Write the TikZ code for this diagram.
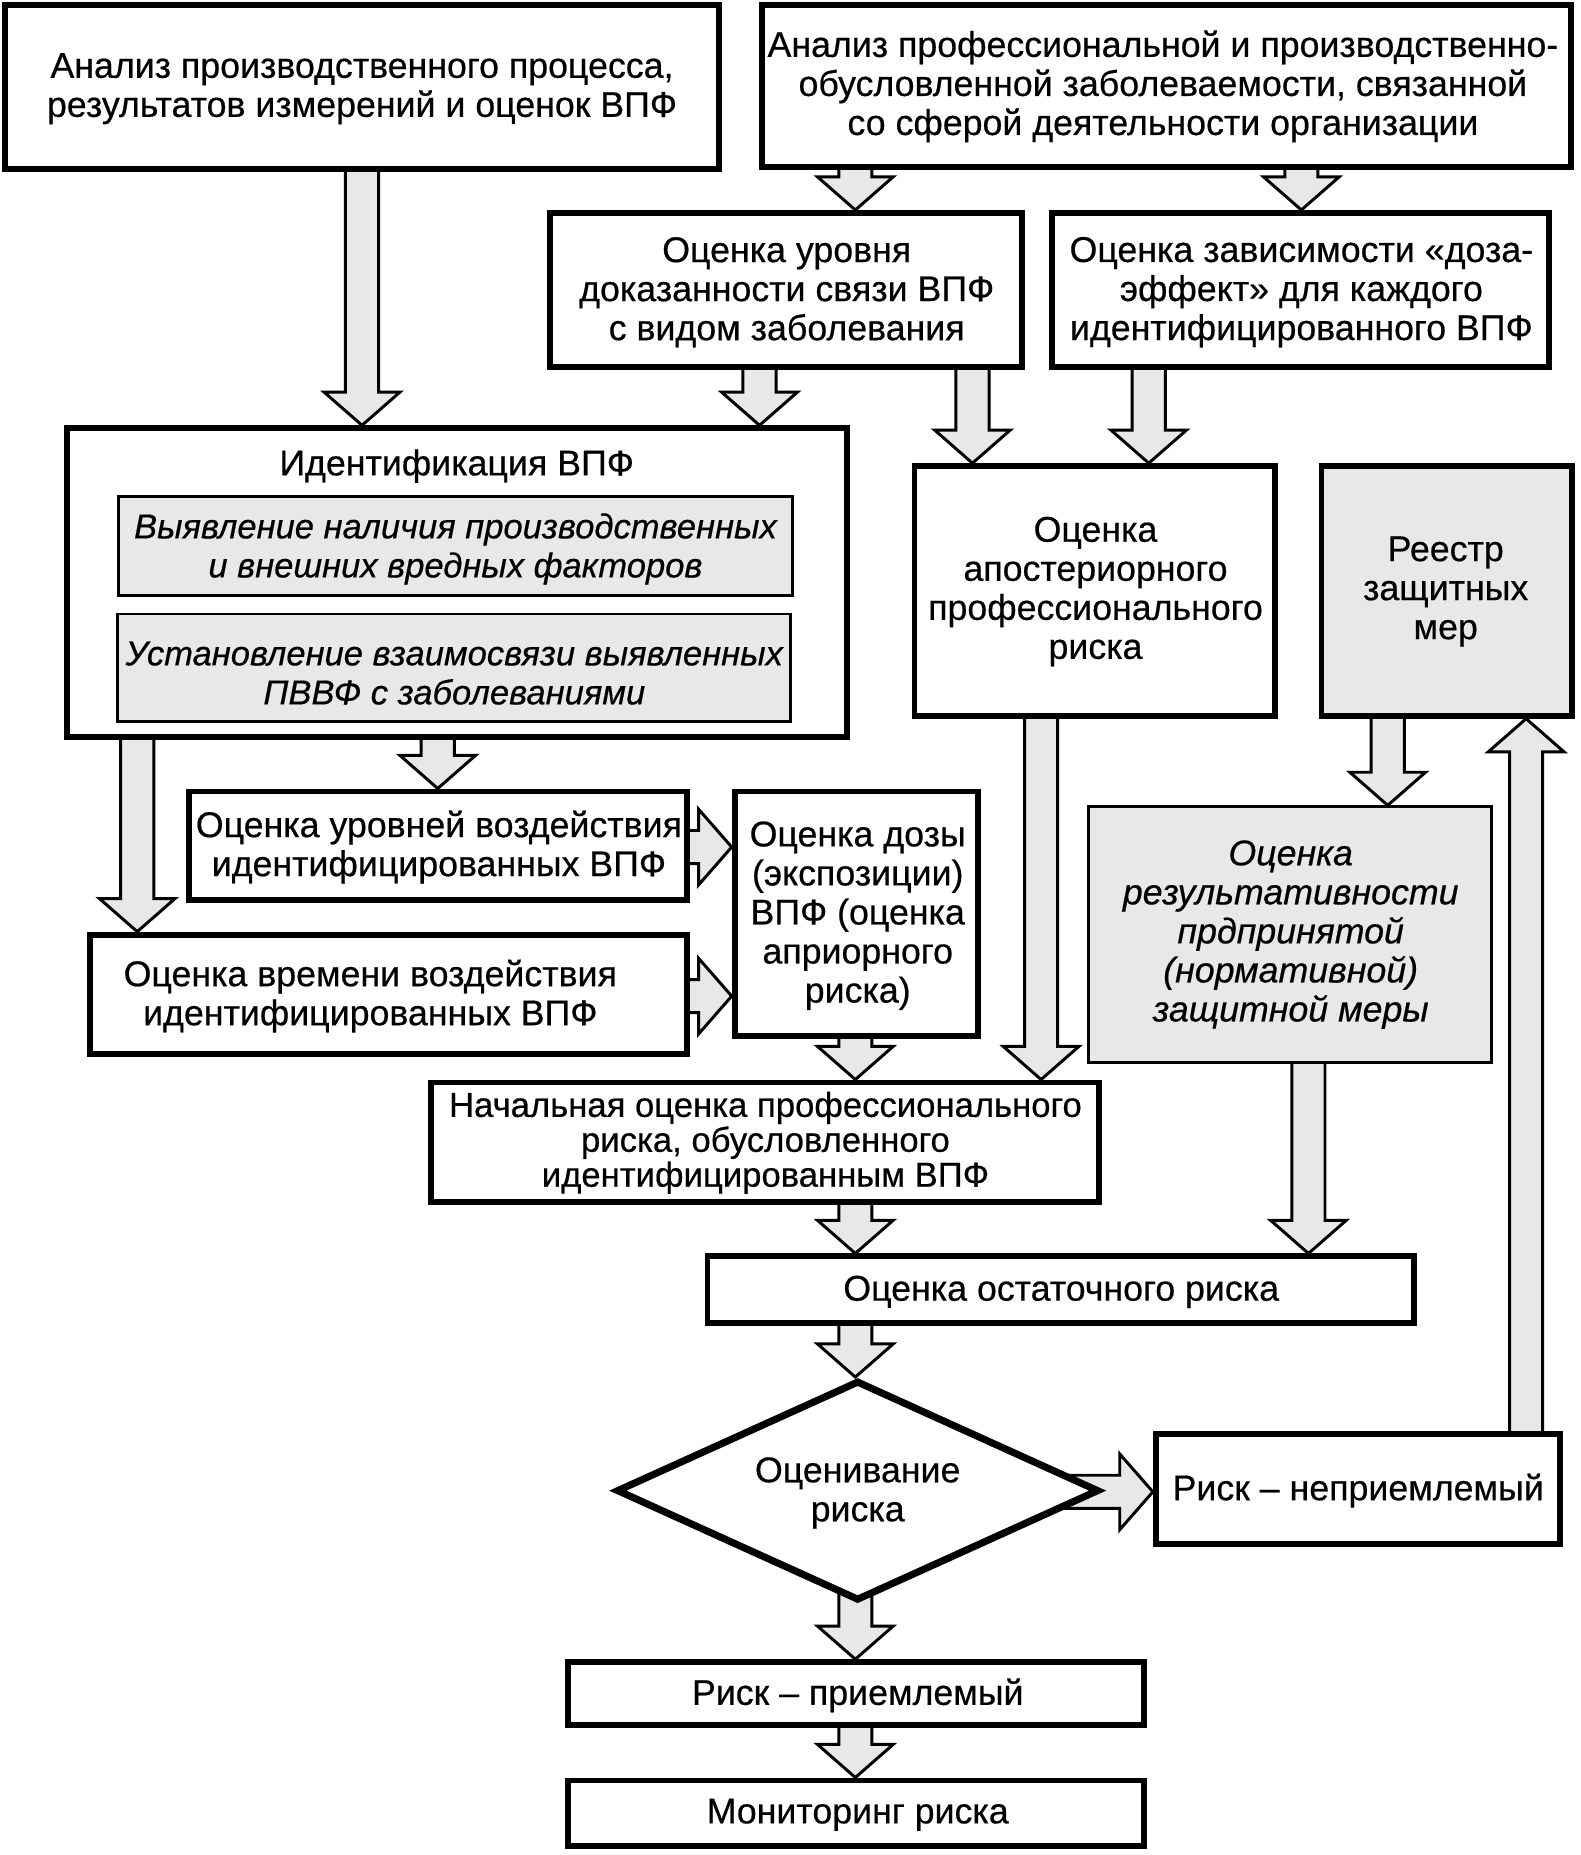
\documentclass[tikz,border=0pt]{standalone}
\usepackage{fontspec}
\setmainfont{Liberation Sans}[FakeBold=0.5]
\usetikzlibrary{shapes.geometric,calc}
\definecolor{lg}{RGB}{232,232,232}
\pgfdeclarelayer{bg}
\pgfsetlayers{bg,main}
\newcommand{\bx}[6]{\node[#1, minimum width={(#5-#3-4)*0.5pt}, minimum height={(#6-#4-4)*0.5pt}] (#2) at ({(#3+#5)/2},{(#4+#6)/2}) {};}
\newcommand{\BArrDown}[3]{%
\path[barrow] let \p1=(#2), \p2=(#3) in
 ({#1*0.5pt-7pt},{\y1+3pt}) -- ({#1*0.5pt+7pt},{\y1+3pt}) -- ({#1*0.5pt+7pt},{\y2+14pt}) -- ({#1*0.5pt+16pt},{\y2+14pt}) -- ({#1*0.5pt},{\y2}) -- ({#1*0.5pt-16pt},{\y2+14pt}) -- ({#1*0.5pt-7pt},{\y2+14pt}) -- cycle;}
\newcommand{\BArrUp}[3]{%
\path[barrow] let \p1=(#2), \p2=(#3) in
 ({#1*0.5pt-7pt},{\y1-3pt}) -- ({#1*0.5pt+7pt},{\y1-3pt}) -- ({#1*0.5pt+7pt},{\y2-14pt}) -- ({#1*0.5pt+16pt},{\y2-14pt}) -- ({#1*0.5pt},{\y2}) -- ({#1*0.5pt-16pt},{\y2-14pt}) -- ({#1*0.5pt-7pt},{\y2-14pt}) -- cycle;}
\newcommand{\BArrRight}[3]{%
\path[barrow] let \p1=(#2), \p2=(#3) in
 ({\x1-3pt},{-#1*0.5pt+7pt}) -- ({\x1-3pt},{-#1*0.5pt-7pt}) -- ({\x2-14pt},{-#1*0.5pt-7pt}) -- ({\x2-14pt},{-#1*0.5pt-16pt}) -- ({\x2},{-#1*0.5pt}) -- ({\x2-14pt},{-#1*0.5pt+16pt}) -- ({\x2-14pt},{-#1*0.5pt+7pt}) -- cycle;}
\begin{document}
\begin{tikzpicture}[x=0.5pt,y=-0.5pt,
 box/.style={draw, line width=2.5pt, fill=white, inner sep=0},
 gbox/.style={draw, line width=2.5pt, fill=lg, inner sep=0},
 sbox/.style={draw, line width=1.25pt, fill=lg, inner sep=0},
 lbl/.style={align=center, inner sep=0, yshift=-1.5pt, font=\fontsize{15.1pt}{16.5pt}\selectfont},
 ilbl/.style={align=center, inner sep=0, yshift=-1.5pt, font=\fontsize{15.1pt}{16.5pt}\selectfont\itshape},
 barrow/.style={draw, line width=1.25pt, fill=lg, line join=miter}
]
\useasboundingbox (0,0) rectangle (1336,1568);
% boxes
\bx{box}{A}{2}{2}{610}{145}
\bx{box}{B}{642}{2}{1330}{143}
\bx{box}{C}{463}{178}{866}{312}
\bx{box}{D}{887}{178}{1311}{312}
\bx{box}{E}{55}{360}{718}{625}
\bx{sbox}{E1}{98}{418}{672}{505}
\bx{sbox}{E2}{97}{517}{670}{612}
\bx{box}{F}{771}{392}{1080}{607}
\bx{gbox}{G}{1115}{392}{1331}{607}
\bx{box}{H}{158}{667}{583}{763}
\bx{box}{I}{619}{667}{829}{878}
\bx{box}{J}{74}{788}{583}{893}
\bx{sbox}{K}{918}{680}{1263}{900}
\bx{box}{L}{362}{913}{931}{1018}
\bx{box}{M}{596}{1060}{1197}{1120}
\node[draw, diamond, line width=3pt, fill=white, inner sep=0, minimum width=204pt, minimum height=93pt] (N) at (725,1260) {};
\bx{box}{O}{975}{1210}{1321}{1307}
\bx{box}{P}{478}{1403}{969}{1460}
\bx{box}{Q}{478}{1503}{969}{1562}
% labels
\node[lbl] (At) at (306,72) {Анализ производственного процесса,\\результатов измерений и оценок ВПФ};
\node[lbl] (Bt) at (983,70) {Анализ профессиональной и производственно-\\обусловленной заболеваемости, связанной\\со сферой деятельности организации};
\node[lbl] (Ct) at (665,244) {Оценка уровня\\доказанности связи ВПФ\\с видом заболевания};
\node[lbl] (Dt) at (1100,244) {Оценка зависимости «доза-\\эффект» для каждого\\идентифицированного ВПФ};
\node[lbl] (Et) at (386,391) {Идентификация ВПФ};
\node[ilbl, font=\fontsize{14.6pt}{16.5pt}\selectfont\itshape] (E1t) at (385,461) {Выявление наличия производственных\\и внешних вредных факторов};
\node[ilbl, font=\fontsize{14.6pt}{16.5pt}\selectfont\itshape] (E2t) at (384,566) {Установление взаимосвязи выявленных\\ПВВФ с заболеваниями};
\node[lbl] (Ft) at (926,497) {Оценка\\апостериорного\\профессионального\\риска};
\node[lbl] (Gt) at (1222,497) {Реестр\\защитных\\мер};
\node[lbl] (Ht) at (371,713) {Оценка уровней воздействия\\идентифицированных ВПФ};
\node[lbl] (It) at (725,771) {Оценка дозы\\(экспозиции)\\ВПФ (оценка\\априорного\\риска)};
\node[lbl] (Jt) at (313,839) {Оценка времени воздействия\\идентифицированных ВПФ};
\node[ilbl] (Kt) at (1091,787) {Оценка\\результативности\\прдпринятой\\(нормативной)\\защитной меры};
\node[lbl, font=\fontsize{14.65pt}{14.75pt}\selectfont] (Lt) at (647,963) {Начальная оценка профессионального\\риска, обусловленного\\идентифицированным ВПФ};
\node[lbl] (Mt) at (897,1089) {Оценка остаточного риска};
\node[lbl] (Nt) at (725,1259) {Оценивание\\риска};
\node[lbl] (Ot) at (1148,1257) {Риск – неприемлемый};
\node[lbl] (Pt) at (725,1430) {Риск – приемлемый};
\node[lbl] (Qt) at (725,1531) {Мониторинг риска};
% arrows
\begin{pgfonlayer}{bg}
\BArrDown{306}{A.south}{E.north}
\BArrDown{723}{B.south}{C.north}
\BArrDown{1100}{B.south}{D.north}
\BArrDown{642}{C.south}{E.north}
\BArrDown{822}{C.south}{F.north}
\BArrDown{971}{D.south}{F.north}
\BArrDown{370}{E.south}{H.north}
\BArrDown{116}{E.south}{J.north}
\BArrRight{716}{H.east}{I.west}
\BArrRight{842}{J.east}{I.west}
\BArrDown{1173}{G.south}{K.north}
\BArrUp{1290}{O.north}{G.south}
\BArrDown{880}{F.south}{L.north}
\BArrDown{723}{I.south}{L.north}
\BArrDown{723}{L.south}{M.north}
\BArrDown{1106}{K.south}{M.north}
\BArrDown{723}{M.south}{N.north}
\BArrRight{1261}{N.center}{O.west}
\BArrDown{723}{N.center}{P.north}
\BArrDown{723}{P.south}{Q.north}
\end{pgfonlayer}
\end{tikzpicture}
\end{document}
